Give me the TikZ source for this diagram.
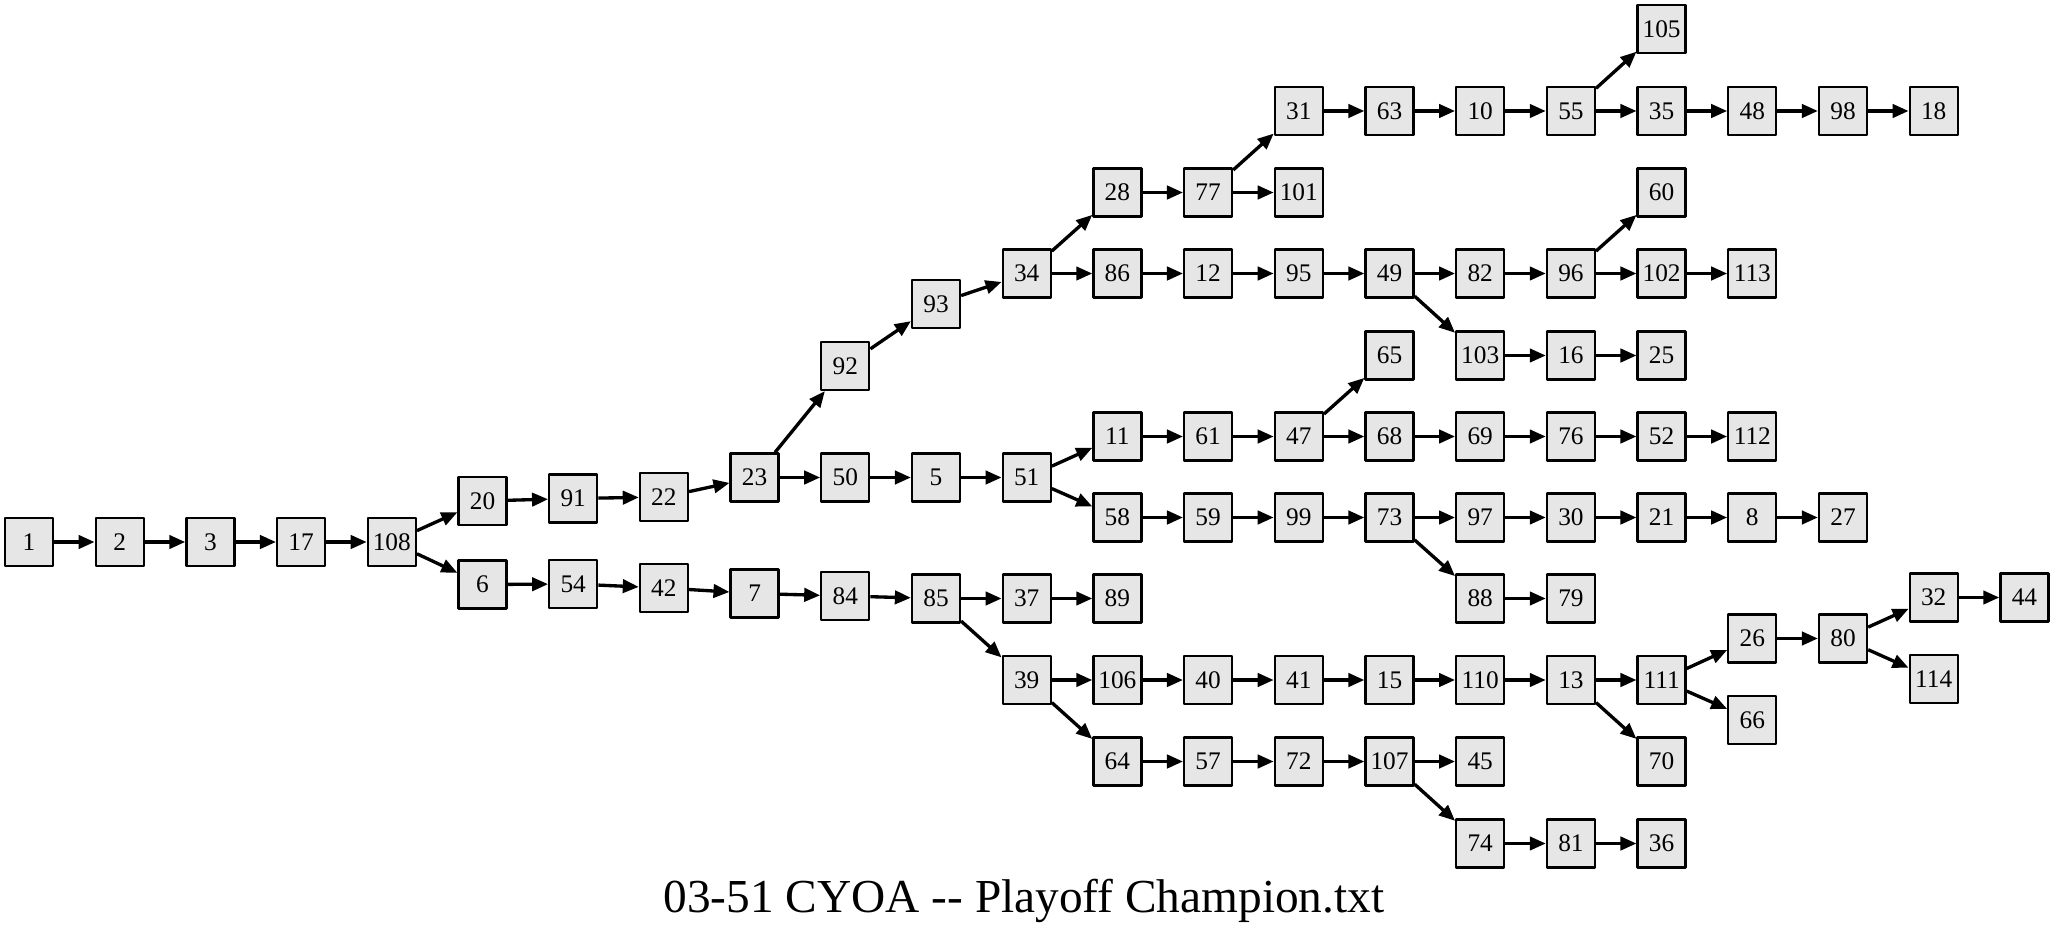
\documentclass[tikz,border=0pt]{standalone}
\usepackage{fontspec}
\setmainfont{Liberation Serif}
\usetikzlibrary{arrows.meta}
\begin{document}
\begin{tikzpicture}[x=0.75pt, y=-0.75pt, line join=round,
    page/.style={draw=black, line width=1.7pt, fill=cBox, minimum width=36pt,
      minimum height=36pt, inner sep=0pt, font=\fontsize{19}{21}\selectfont},
    link/.style={line width=2.5pt, -{Triangle[length=12pt, width=10pt]}}]
  \definecolor{cBox}{RGB}{230, 230, 230}

  \useasboundingbox (0,0) rectangle (2053,931);

  \foreach \n/\c/\y in {1/0/542, 2/1/542, 3/2/542, 17/3/542, 108/4/542,
      20/5/501, 6/5/584.5, 91/6/498.5, 54/6/584, 22/7/497, 42/7/588,
      23/8/477.5, 7/8/593.5, 92/9/366, 50/9/477.5, 84/9/596,
      93/10/304, 5/10/477.5, 85/10/598.5,
      34/11/273.5, 51/11/477.5, 37/11/598.5, 39/11/680,
      28/12/192.5, 86/12/273.5, 11/12/436.5, 58/12/517.5, 89/12/598.5, 106/12/680, 64/12/761.5,
      77/13/192.5, 12/13/273.5, 61/13/436.5, 59/13/517.5, 40/13/680, 57/13/761.5,
      31/14/111, 101/14/192.5, 95/14/273.5, 47/14/436.5, 99/14/517.5, 41/14/680, 72/14/761.5,
      63/15/111, 49/15/273.5, 65/15/355.5, 68/15/436.5, 73/15/517.5, 15/15/680, 107/15/761.5,
      10/16/111, 82/16/273.5, 103/16/355.5, 69/16/436.5, 97/16/517.5, 88/16/598.5,
      110/16/680, 45/16/761.5, 74/16/843.5,
      55/17/111, 96/17/273.5, 16/17/355.5, 76/17/436.5, 30/17/517.5, 79/17/598.5,
      13/17/680, 81/17/843.5,
      105/18/29, 35/18/111, 60/18/192.5, 102/18/273.5, 25/18/355.5, 52/18/436.5,
      21/18/517.5, 111/18/680, 70/18/761.5, 36/18/843.5,
      48/19/111, 113/19/273.5, 112/19/436.5, 8/19/517.5, 26/19/638.5, 66/19/720,
      98/20/111, 27/20/517.5, 80/20/638.5,
      18/21/111, 32/21/597.5, 114/21/679,
      44/22/597.5}
    \node[page] (n\n) at ({29+90.7*\c},\y) {\n};

  \foreach \a/\b in {1/2, 2/3, 3/17, 17/108, 108/20, 108/6, 20/91, 91/22, 22/23,
      23/92, 23/50, 92/93, 93/34, 34/28, 34/86, 28/77, 77/31, 77/101,
      31/63, 63/10, 10/55, 55/105, 55/35, 35/48, 48/98, 98/18,
      86/12, 12/95, 95/49, 49/82, 49/103, 82/96, 96/60, 96/102, 102/113,
      103/16, 16/25, 50/5, 5/51, 51/11, 51/58, 11/61, 61/47, 47/65, 47/68,
      68/69, 69/76, 76/52, 52/112, 58/59, 59/99, 99/73, 73/97, 73/88,
      97/30, 30/21, 21/8, 8/27, 88/79, 6/54, 54/42, 42/7, 7/84, 84/85,
      85/37, 85/39, 37/89, 39/106, 39/64, 106/40, 40/41, 41/15, 15/110,
      110/13, 13/111, 13/70, 111/26, 111/66, 26/80, 80/32, 80/114, 32/44,
      64/57, 57/72, 72/107, 107/45, 107/74, 74/81, 81/36}
    \draw[link] (n\a) -- (n\b);

  \node[anchor=base, font=\fontsize{35.5}{40}\selectfont] (title) at (1024,912)
    {03-51 CYOA -\kern0pt- Playoff Champion.txt};
\end{tikzpicture}
\end{document}
